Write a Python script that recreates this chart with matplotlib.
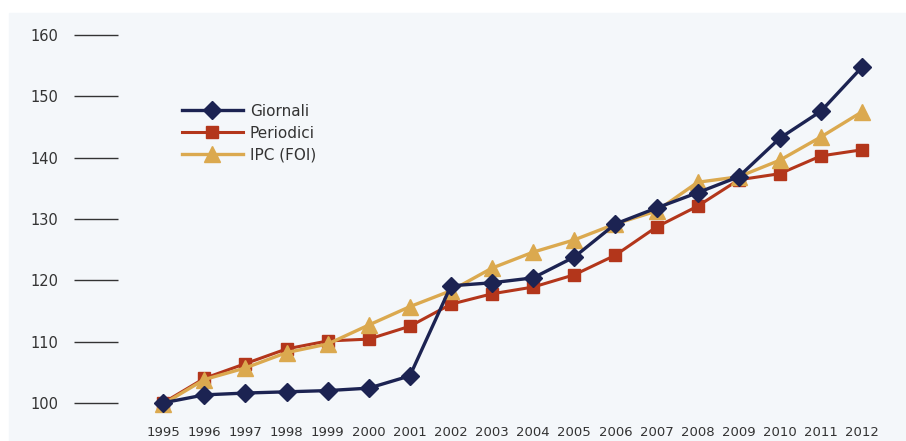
import matplotlib
matplotlib.use("Agg")
import matplotlib.pyplot as plt

years = list(range(1995, 2013))
giornali = [100, 101.3, 101.6, 101.8, 102.0, 102.4, 104.4, 119.1, 119.6, 120.4,
            123.8, 129.2, 131.8, 134.3, 136.9, 143.2, 147.6, 154.8]
periodici = [100, 104.0, 106.4, 108.8, 110.1, 110.4, 112.5, 116.1, 117.8, 118.9,
             120.9, 124.1, 128.7, 132.1, 136.4, 137.4, 140.3, 141.3]
ipc = [99.8, 103.8, 105.7, 108.2, 109.6, 112.7, 115.7, 118.3, 122.0, 124.6,
       126.6, 129.2, 131.3, 136.0, 136.9, 139.6, 143.4, 147.5]
yticks = [100, 110, 120, 130, 140, 150, 160]

bg = "#f4f7fa"
fig = plt.figure(figsize=(9.06, 4.41), dpi=100, facecolor="white")
fig.patches.append(plt.Rectangle((0.01, 0), 0.99, 0.97, transform=fig.transFigure,
                                 color=bg, zorder=-10))
ax = fig.add_axes([118/906, 21/441, 772/906, 405/441])
ax.set_facecolor("none")

ax.plot(years, periodici, color="#b3361b", lw=2.2, marker="s", ms=9, label="Periodici", zorder=2)
ax.plot(years, ipc, color="#dba94f", lw=2.4, marker="^", ms=11, label="IPC (FOI)", zorder=3)
ax.plot(years, giornali, color="#1c2352", lw=2.4, marker="D", ms=9.5, label="Giornali", zorder=4)

ax.set_xlim(1993.9, 2012.68)
ax.set_ylim(97.2, 163.3)
for s in ax.spines.values():
    s.set_visible(False)
ax.set_xticks(years)
ax.set_xticklabels([str(y) for y in years], fontsize=9.5, color="#333333")
ax.tick_params(axis="x", length=0, pad=4)
ax.set_yticks(yticks)
ax.set_yticklabels([str(v) for v in yticks], fontsize=10.5, color="#333333")
ax.tick_params(axis="y", length=32, width=1.0, color="#333333", pad=11, direction="out")

h, l = ax.get_legend_handles_labels()
order = [2, 0, 1]
leg = ax.legend([h[i] for i in order], [l[i] for i in order], loc="upper left",
                bbox_to_anchor=(168/906, 1 - 90/441), bbox_transform=fig.transFigure,
                frameon=False, fontsize=11, handlelength=4.0, labelspacing=0.45,
                handletextpad=0.45)
for t in leg.get_texts():
    t.set_color("#333333")

fig.savefig("out.png", dpi=100, facecolor="white")
